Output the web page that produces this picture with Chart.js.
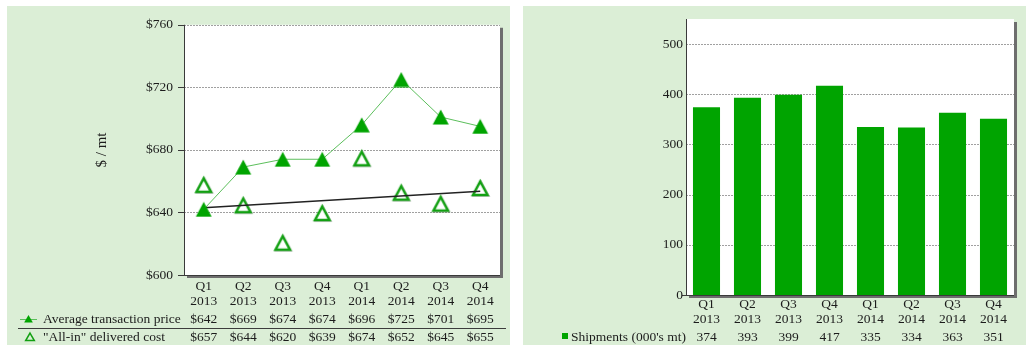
<!DOCTYPE html>
<html><head><meta charset="utf-8">
<script src="https://cdn.jsdelivr.net/npm/chart.js@4/dist/chart.umd.min.js"></script>
<style>
body{margin:0;background:#fff;width:1033px;height:356px;overflow:hidden;position:relative}
.panel{position:absolute;top:6px;width:503px;height:339px;background:#dbeed6}
#p1{left:7px} #p2{left:523px}
canvas{display:block}
</style></head><body>
<div class="panel" id="p1"><canvas id="c1" width="503" height="339"></canvas></div>
<div class="panel" id="p2"><canvas id="c2" width="503" height="339"></canvas></div>
<script>
const categories = [['Q1','2013'],['Q2','2013'],['Q3','2013'],['Q4','2013'],['Q1','2014'],['Q2','2014'],['Q3','2014'],['Q4','2014']];
const avgPrice = [642,669,674,674,696,725,701,695];
const allInCost = [657,644,620,639,674,652,645,655];
const costTrend = [643,null,null,null,null,null,null,653.5];
const shipments = [374,393,399,417,335,334,363,351];
const priceRowLabel = 'Average transaction price';
const costRowLabel = '"All-in" delivered cost';
const shipRowLabel = "Shipments (000's mt)";
const yTitleLeft = '$ / mt';

const FAM = "'Liberation Serif','Times New Roman',serif";
const FS = 13.5;
const TEXT = '#1c1c1c';
const GREEN = '#00a400';
const HOLLOW = '#12a012';

function makeMarker(w,h,draw){
  const c=document.createElement('canvas'); c.width=w; c.height=h;
  draw(c.getContext('2d')); return c;
}
function triPath(ctx,cx,top,bw,bh){
  ctx.beginPath();
  ctx.moveTo(cx,top); ctx.lineTo(cx+bw/2,top+bh); ctx.lineTo(cx-bw/2,top+bh); ctx.closePath();
}
const filledTri = makeMarker(18,16,ctx=>{triPath(ctx,9,0.5,16,15);ctx.fillStyle=GREEN;ctx.fill();});
const hollowTri = makeMarker(23,22,ctx=>{
  ctx.lineJoin='miter';
  triPath(ctx,12.2,4.2,14.5,13.5);ctx.strokeStyle='rgba(90,90,90,0.35)';ctx.lineWidth=2.5;ctx.stroke();
  triPath(ctx,11.5,3.5,14.5,13.5);ctx.fillStyle='#fff';ctx.fill();ctx.strokeStyle=HOLLOW;ctx.lineWidth=2.5;ctx.stroke();
});

function framePlugin(opts){
  return {
    id:'frame'+opts.key,
    beforeDraw(chart){
      const {ctx, chartArea:a} = chart; const y = chart.scales.y;
      ctx.save();
      ctx.fillStyle='#6e6e6e';
      ctx.fillRect(a.left+3,a.top+3,a.right-a.left,a.bottom-a.top);
      ctx.fillStyle='#fff';
      ctx.fillRect(a.left,a.top,a.right-a.left,a.bottom-a.top);
      ctx.strokeStyle='#a0a0a0'; ctx.lineWidth=1; ctx.setLineDash([2,1]);
      y.ticks.forEach(t=>{
        if(!opts.grid(t.value)) return;
        const py=Math.round(y.getPixelForValue(t.value))+0.5;
        ctx.beginPath(); ctx.moveTo(a.left,py); ctx.lineTo(a.right,py); ctx.stroke();
      });
      ctx.setLineDash([]);
      ctx.strokeStyle='#3a3a3a';
      y.ticks.forEach(t=>{
        if(!opts.tickMark(t.value)) return;
        const py=Math.round(y.getPixelForValue(t.value))+0.5;
        ctx.beginPath(); ctx.moveTo(a.left-opts.tickLen,py); ctx.lineTo(a.left,py); ctx.stroke();
      });
      ctx.beginPath(); ctx.moveTo(a.left+0.5,a.top); ctx.lineTo(a.left+0.5,a.bottom); ctx.stroke();
      ctx.beginPath(); ctx.moveTo(a.left,a.bottom+0.5); ctx.lineTo(a.right,a.bottom+0.5); ctx.stroke();
      const x = chart.scales.x;
      ctx.font=FS+'px '+FAM; ctx.fillStyle=TEXT; ctx.textBaseline='middle'; ctx.textAlign='center';
      categories.forEach((c,i)=>{
        const px=x.getPixelForValue(i);
        ctx.fillText(c[0],px,opts.catY[0]);
        ctx.fillText(c[1],px,opts.catY[1]);
      });
      ctx.restore();
    },
    afterDraw(chart){ opts.table(chart); }
  };
}

function tri(ctx,x,y,r,fill,stroke,lw){
  ctx.beginPath();
  ctx.moveTo(x,y-r);
  ctx.lineTo(x+r*0.866,y+r/2);
  ctx.lineTo(x-r*0.866,y+r/2);
  ctx.closePath();
  if(fill){ctx.fillStyle=fill;ctx.fill();}
  if(stroke){ctx.strokeStyle=stroke;ctx.lineWidth=lw;ctx.stroke();}
}

const tickFont = {family:FAM,size:FS,lineHeight:1.15};

// LEFT CHART
new Chart(document.getElementById('c1'),{
  type:'line',
  data:{labels:categories,datasets:[
    {label:priceRowLabel,data:avgPrice,order:0,borderColor:'#5cbf5c',borderWidth:1,
     pointStyle:filledTri,pointRadius:9,tension:0},
    {label:'trend',data:costTrend,order:1,spanGaps:true,borderColor:'#222',borderWidth:1.5,pointRadius:0},
    {label:costRowLabel,data:allInCost,order:2,showLine:false,
     pointStyle:hollowTri,pointRadius:9}
  ]},
  options:{
    responsive:false,devicePixelRatio:1,animation:false,
    layout:{padding:{top:8,right:4,left:0,bottom:0}},
    plugins:{legend:{display:false},tooltip:{enabled:false}},
    scales:{
      y:{min:600,max:760,grid:{display:false,drawTicks:false},border:{display:false},
         ticks:{stepSize:40,padding:11,color:TEXT,font:tickFont,callback:v=>'$'+v},
         afterFit:s=>{s.width=177;}},
      x:{offset:true,grid:{display:false,drawTicks:false},border:{display:false},
         ticks:{display:false},
         afterFit:s=>{s.height=70;}}
    }
  },
  plugins:[framePlugin({key:1,catY:[280,295],grid:v=>true,tickMark:v=>true,tickLen:6,table(chart){
    const {ctx}=chart; const x=chart.scales.x;
    ctx.save();
    ctx.font=FS+'px '+FAM; ctx.fillStyle=TEXT; ctx.textBaseline='middle'; ctx.textAlign='center';
    avgPrice.forEach((v,i)=>ctx.fillText('$'+v,x.getPixelForValue(i),313));
    allInCost.forEach((v,i)=>ctx.fillText('$'+v,x.getPixelForValue(i),331));
    ctx.textAlign='left';
    ctx.fillText(priceRowLabel,36,313);
    ctx.fillText(costRowLabel,36,331);
    ctx.strokeStyle='#3c3c3c'; ctx.lineWidth=1;
    ctx.beginPath(); ctx.moveTo(11,322.5); ctx.lineTo(499,322.5); ctx.stroke();
    ctx.strokeStyle='#5cbf5c';
    ctx.beginPath(); ctx.moveTo(13,313.5); ctx.lineTo(30,313.5); ctx.stroke();
    tri(ctx,21.5,314,5,GREEN,null,0);
    tri(ctx,23,332,5,null,HOLLOW,1.5);
    ctx.fillStyle=TEXT;
    ctx.translate(95,144); ctx.rotate(-Math.PI/2);
    ctx.textAlign='center'; ctx.font='15px '+FAM;
    ctx.fillText(yTitleLeft,0,0);
    ctx.restore();
  }})]
});

// RIGHT CHART
new Chart(document.getElementById('c2'),{
  type:'bar',
  data:{labels:categories,datasets:[
    {label:shipRowLabel,data:shipments,backgroundColor:GREEN,borderWidth:0,categoryPercentage:1,barPercentage:0.66}
  ]},
  options:{
    responsive:false,devicePixelRatio:1,animation:false,
    layout:{padding:{top:13,right:12,left:0,bottom:0}},
    plugins:{legend:{display:false},tooltip:{enabled:false}},
    scales:{
      y:{min:0,max:550,grid:{display:false,drawTicks:false},border:{display:false},
         ticks:{stepSize:100,padding:3,color:TEXT,font:tickFont,callback:v=>(v%100===0?v:'')},
         afterFit:s=>{s.width=163;}},
      x:{grid:{display:false,drawTicks:false},border:{display:false},
         ticks:{display:false},
         afterFit:s=>{s.height=50;}}
    }
  },
  plugins:[framePlugin({key:2,catY:[298,313.5],grid:v=>v%100===0&&v>0,tickMark:v=>v===0,tickLen:4,table(chart){
    const {ctx}=chart; const x=chart.scales.x;
    ctx.save();
    ctx.font=FS+'px '+FAM; ctx.fillStyle=TEXT; ctx.textBaseline='middle'; ctx.textAlign='center';
    shipments.forEach((v,i)=>ctx.fillText(String(v),x.getPixelForValue(i),331));
    ctx.textAlign='left';
    ctx.fillText(shipRowLabel,48,331);
    ctx.fillStyle=GREEN; ctx.fillRect(39,327,6,6);
    ctx.restore();
  }})]
});
</script>
</body></html>
